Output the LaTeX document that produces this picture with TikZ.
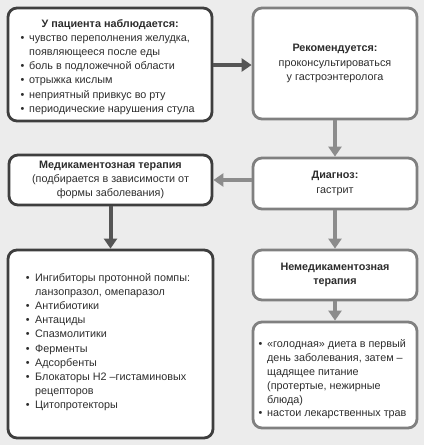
\documentclass[tikz,border=0pt]{standalone}
\usepackage{fontspec}
\setmainfont{Liberation Sans}
\usepackage{array}
\usetikzlibrary{arrows.meta}
\definecolor{bg}{RGB}{236,236,236}
\definecolor{darkb}{RGB}{62,62,62}
\definecolor{grayb}{RGB}{128,128,128}
\definecolor{txt}{RGB}{45,45,45}
\definecolor{darka}{RGB}{85,85,85}
\definecolor{graya}{RGB}{140,140,140}
\newcommand{\bfz}{\fontsize{10.8}{14.2}\selectfont}
\begin{document}
\begin{tikzpicture}[x=1pt,y=-1pt,
  box/.style={draw, fill=white, rounded corners=9pt, line width=2.8pt, inner sep=0pt, text=txt, font=\bfz},
  darkbox/.style={box, draw=darkb},
  graybox/.style={box, draw=grayb},
  txtnode/.style={inner sep=0pt, anchor=north west, text=txt, font=\bfz},
  arr/.style={line width=4pt, -{Triangle[length=10pt,width=13pt]}},
  darkarr/.style={arr, draw=darka, fill=darka},
  grayarr/.style={arr, draw=graya, fill=graya}]
\fill[bg] (0,0) rectangle (424,445);
\useasboundingbox (0,0) rectangle (424,445);

% boxes
\node[darkbox, minimum width=204pt, minimum height=113pt] (sym) at (110,64.5) {};
\node[graybox, minimum width=164pt, minimum height=111pt, align=center] (rec) at (335,63.5)
  {\textbf{Рекомендуется:}\\проконсультироваться\\у гастроэнтеролога};
\node[graybox, minimum width=164pt, minimum height=51pt, align=center] (diag) at (335,183.5)
  {\textbf{Диагноз:}\\[1pt]гастрит};
\node[darkbox, minimum width=203pt, minimum height=50pt, align=center] (med) at (110.5,180)
  {\textbf{Медикаментозная терапия}\\(подбирается в зависимости от\\формы заболевания)};
\node[darkbox, minimum width=205pt, minimum height=188pt] (list) at (110.5,344) {};
\node[graybox, minimum width=164pt, minimum height=50pt, align=center] (nonmed) at (335,275)
  {\textbf{Немедикаментозная}\\\textbf{терапия}};
\node[graybox, minimum width=164pt, minimum height=106pt] (diet) at (335,375) {};

% texts inside list boxes
\node[txtnode] (symtxt) at (20.5,17) {%
\begin{tabular}{@{}p{8.5pt}@{}p{170.5pt}@{}}
\multicolumn{2}{@{}c@{}}{\textbf{У пациента наблюдается:}}\\
\textbullet & чувство переполнения желудка,\\
 & появляющееся после еды\\
\textbullet & боль в подложечной области\\
\textbullet & отрыжка кислым\\
\textbullet & неприятный привкус во рту\\
\textbullet & периодические нарушения стула\\
\end{tabular}};

\node[txtnode] (listtxt) at (25.6,271) {%
\begin{tabular}{@{}p{9.4pt}@{}p{175pt}@{}}
\textbullet & Ингибиторы протонной помпы:\\
 & ланзопразол, омепаразол\\
\textbullet & Антибиотики\\
\textbullet & Антациды\\
\textbullet & Спазмолитики\\
\textbullet & Ферменты\\
\textbullet & Адсорбенты\\
\textbullet & Блокаторы Н2 --гистаминовых\\
 & рецепторов\\
\textbullet & Цитопротекторы\\
\end{tabular}};

\node[txtnode] (diettxt) at (258.3,338) {\fontsize{10.8}{13.8}\selectfont%
\begin{tabular}{@{}p{8.7pt}@{}p{150pt}@{}}
\textbullet & «голодная» диета в первый\\
 & день заболевания, затем --\\
 & щадящее питание\\
 & (протертые, нежирные\\
 & блюда)\\
\textbullet & настои лекарственных трав\\
\end{tabular}};

% connectors
\draw[darkarr] (sym.east |- 0,65) -- (rec.west |- 0,65);
\draw[grayarr] (rec.south) -- (diag.north);
\draw[grayarr] (diag.west |- med.east) -- (med.east);
\draw[darkarr] (med.south) -- (list.north);
\draw[grayarr] (diag.south) -- (nonmed.north);
\draw[grayarr] (nonmed.south) -- (diet.north);
\end{tikzpicture}
\end{document}
